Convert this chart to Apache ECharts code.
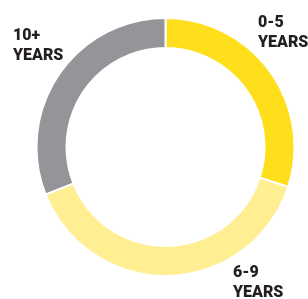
<!DOCTYPE html>
<html>
<head>
<meta charset="utf-8">
<script src="https://cdn.jsdelivr.net/npm/echarts@6/dist/echarts.min.js"></script>
<style>
  html, body { margin: 0; padding: 0; background: #fff; }
  #chart { width: 308px; height: 299px; }
</style>
</head>
<body>
<div id="chart"></div>
<script>
// tenure groups, share of people (%)
const groups = ['0-5', '6-9', '10+']
const shares = [30, 39, 31]
const colors = ['#FFDE1C', '#FFEE92', '#939598']
// where each label's top-left sits
const labelSpots = [[258, 13], [233, 263], [13, 26]]

const myChart = echarts.init(document.getElementById('chart'))

const option = {
    animation: false,
    series: [
        {
            type: 'pie',
            center: [165.5, 147],
            radius: [99, 129],
            startAngle: 90,
            clockwise: true,
            silent: true,
            avoidLabelOverlap: false,
            itemStyle: {
                borderColor: '#fff',
                borderWidth: 2
            },
            label: {
                show: true,
                position: 'inside',
                overflow: 'none',
                formatter: p => p.name + '\nYEARS',
                fontFamily: 'Roboto',
                fontWeight: 900,
                fontSize: 16,
                lineHeight: 20,
                color: '#231F20',
                align: 'left'
            },
            labelLine: { show: false },
            labelLayout: params => ({
                x: labelSpots[params.dataIndex][0],
                y: labelSpots[params.dataIndex][1],
                align: 'left',
                verticalAlign: 'top',
                hideOverlap: false
            }),
            data: groups.map((g, i) => ({
                name: g,
                value: shares[i],
                itemStyle: { color: colors[i] }
            }))
        }
    ]
}

myChart.setOption(option)
</script>
</body>
</html>
